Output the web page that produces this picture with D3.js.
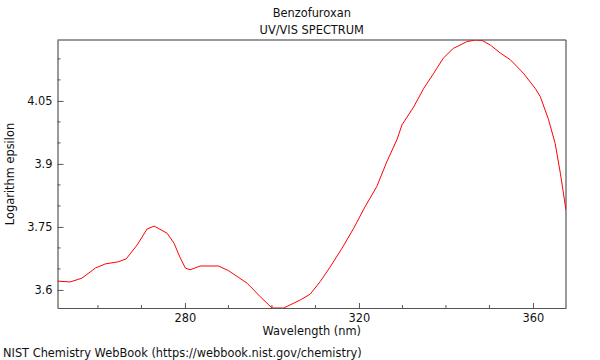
<!DOCTYPE html>
<html>
<head>
<meta charset="utf-8">
<script src="https://cdn.jsdelivr.net/npm/d3@7"></script>
<style>
  html, body { margin: 0; padding: 0; background: #fff; }
  svg { display: block; font-family: "DejaVu Sans", sans-serif; }
</style>
</head>
<body>
<svg id="chart" width="600" height="360"></svg>
<script>
const titleLines = ["Benzofuroxan", "UV/VIS SPECTRUM"];
const xLabel = "Wavelength (nm)";
const yLabel = "Logarithm epsilon";
const footer = "NIST Chemistry WebBook (https://webbook.nist.gov/chemistry)";

const wavelength = [250.7, 253.6, 256.3, 259.4, 261.7, 264.7, 266.5, 269.0, 271.3, 272.9,
  275.9, 277.5, 278.8, 280.1, 281.2, 283.5, 287.7, 290.0, 294.3, 297.3,
  300.0, 302.7, 306.5, 308.8, 311.1, 313.4, 316.1, 318.8, 321.4, 324.1,
  326.4, 328.7, 329.9, 332.6, 334.9, 337.2, 339.4, 341.7, 344.8, 346.7,
  348.3, 350.2, 352.5, 354.8, 357.8, 360.5, 361.7, 363.6, 365.1, 366.3, 367.6];
const logEps = [3.621, 3.619, 3.628, 3.652, 3.662, 3.667, 3.674, 3.707, 3.745, 3.752,
  3.735, 3.711, 3.679, 3.652, 3.648, 3.657, 3.657, 3.646, 3.616, 3.584,
  3.557, 3.557, 3.576, 3.590, 3.620, 3.655, 3.699, 3.747, 3.798, 3.846,
  3.905, 3.957, 3.993, 4.036, 4.080, 4.116, 4.152, 4.175, 4.191, 4.195,
  4.194, 4.183, 4.164, 4.148, 4.116, 4.080, 4.060, 4.005, 3.949, 3.878, 3.790];

const xMajor = [280, 320, 360];
const xMinor = [260, 270, 290, 300, 310, 330, 340, 350];
const yMajor = [3.6, 3.75, 3.9, 4.05];
const yMajorLabels = ["3.6", "3.75", "3.9", "4.05"];
const yMinor = [3.65, 3.7, 3.8, 3.85, 3.95, 4.0, 4.1, 4.15];

const FS = 11.4;
const m = { left: 57.5, right: 566, top: 40, bottom: 308 };
const svg = d3.select("#chart");

const x = d3.scaleLinear().domain([250.7, 367.6]).range([m.left, m.right]);
const y = d3.scaleLinear().domain([3.557, 4.195]).range([m.bottom, m.top]);

svg.append("defs").append("clipPath").attr("id", "clip")
  .append("rect").attr("x", m.left).attr("y", m.top)
  .attr("width", m.right - m.left).attr("height", m.bottom - m.top);

// frame
svg.append("line").attr("x1", m.left).attr("x2", m.right).attr("y1", m.top).attr("y2", m.top)
  .attr("stroke", "#999").attr("stroke-width", 2);
svg.append("line").attr("x1", m.right).attr("x2", m.right).attr("y1", m.top).attr("y2", m.bottom)
  .attr("stroke", "#555").attr("stroke-width", 1.2);

// x axis
const gx = svg.append("g").attr("transform", `translate(0,${m.bottom})`);
gx.call(d3.axisBottom(x).tickValues(xMajor).tickSizeInner(-5).tickSizeOuter(0).tickPadding(6)
  .tickFormat(d3.format("d")));
gx.selectAll(".tick text").attr("font-size", FS).attr("fill", "#111").attr("font-family", "DejaVu Sans");
gx.selectAll(".tick line").attr("stroke", "#555");
gx.select(".domain").attr("stroke", "#555").attr("stroke-width", 1.2);
gx.selectAll(".minor").data(xMinor).enter().append("line").attr("class", "minor")
  .attr("x1", d => x(d)).attr("x2", d => x(d)).attr("y1", 0).attr("y2", -3).attr("stroke", "#555");

// y axis
const gy = svg.append("g").attr("transform", `translate(${m.left},0)`);
gy.call(d3.axisLeft(y).tickValues(yMajor).tickSizeInner(-6).tickSizeOuter(0).tickPadding(5)
  .tickFormat((d, i) => yMajorLabels[i]));
gy.selectAll(".tick text").attr("font-size", FS).attr("fill", "#111").attr("font-family", "DejaVu Sans");
gy.selectAll(".tick line").attr("stroke", "#555");
gy.select(".domain").attr("stroke", "#555").attr("stroke-width", 1.2);
gy.selectAll(".minor").data(yMinor).enter().append("line").attr("class", "minor")
  .attr("x1", 0).attr("x2", 3).attr("y1", d => y(d)).attr("y2", d => y(d)).attr("stroke", "#555");

// line
const pts = wavelength.map((w, i) => [w, logEps[i]]);
svg.append("path").datum(pts)
  .attr("clip-path", "url(#clip)")
  .attr("fill", "none").attr("stroke", "#ff0000").attr("stroke-width", 1)
  .attr("d", d3.line().x(d => x(d[0])).y(d => y(d[1])));

// titles
const cx = (m.left + m.right) / 2;
svg.append("text").attr("x", cx).attr("y", 17).attr("text-anchor", "middle")
  .attr("font-size", FS).attr("fill", "#111").text(titleLines[0]);
svg.append("text").attr("x", cx).attr("y", 34).attr("text-anchor", "middle")
  .attr("font-size", FS).attr("fill", "#111").text(titleLines[1]);
svg.append("text").attr("x", cx).attr("y", 335).attr("text-anchor", "middle")
  .attr("font-size", FS).attr("fill", "#111").text(xLabel);
svg.append("text").attr("transform", `translate(14,${(m.top + m.bottom) / 2}) rotate(-90)`)
  .attr("text-anchor", "middle").attr("font-size", FS).attr("fill", "#111").text(yLabel);
svg.append("text").attr("x", 3).attr("y", 357)
  .attr("font-size", FS).attr("fill", "#111").text(footer);
</script>
</body>
</html>
